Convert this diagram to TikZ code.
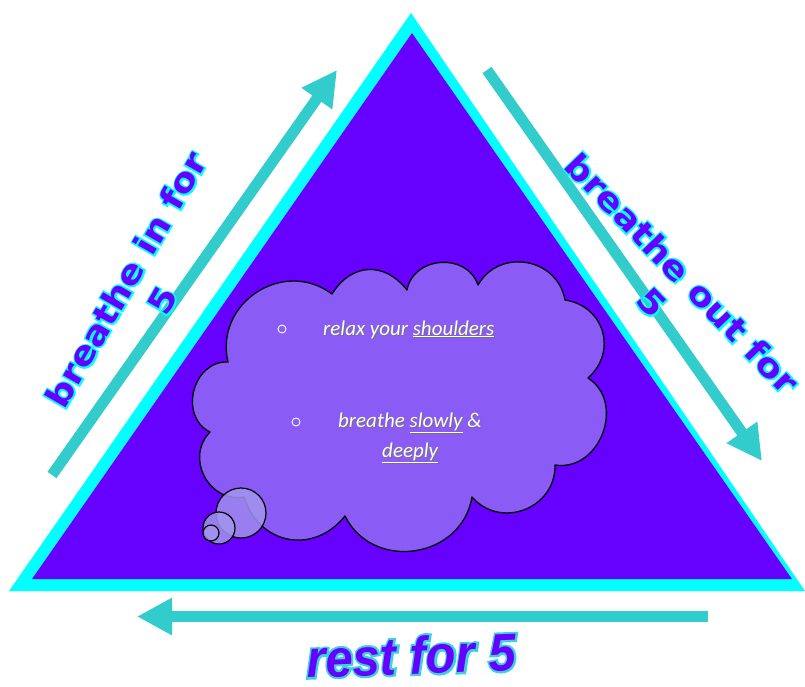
\documentclass[tikz,border=0pt]{standalone}
\usepackage{fontspec}
\usetikzlibrary{arrows.meta}
\newfontfamily\wafont[FakeStretch=1.12]{DejaVu Sans}
\newfontfamily\cloudfont{Carlito}
\newfontfamily\restfont{Liberation Sans}
\definecolor{wpurple}{HTML}{6600FF}
\definecolor{wcyan}{HTML}{00FFFF}
\definecolor{wteal}{HTML}{33CCCC}
\definecolor{restline}{HTML}{3CD2DC}
\definecolor{cloudfill}{HTML}{8A5CF5}
\definecolor{bubfill}{HTML}{A395EE}
% outlined text: #1 outline colour, #2 embolden amount, #3 text
\newcommand\wart[3]{\rlap{\addfontfeature{FakeBold=#2}\color{#1}#3}{\color{wpurple}#3}}
\newcommand\shad[1]{\rlap{\hspace*{0.9pt}\raisebox{-1.1pt}{\color{black!55}#1}}{\color{white}#1}}
\begin{document}
\begin{tikzpicture}[x=1pt,y=-1pt,
  arrowline/.style={wteal, line width=11pt, -{Triangle[length=35pt,width=35pt]}},
  wa/.style={font=\wafont\bfseries\fontsize{33}{42}\selectfont, align=center, inner sep=0pt},
  restlabel/.style={font=\restfont\bfseries\itshape\fontsize{49}{49}\selectfont, inner sep=0pt},
  cloudtext/.style={font=\cloudfont\itshape\fontsize{21}{25}\selectfont, inner sep=0pt},
  bulletmark/.style={circle, draw=white, line width=0.9pt, minimum size=8pt, inner sep=0pt},
  puff/.style={bend left=#1, looseness=1.25},
  bubble/.style={draw=black, line width=1.2pt, fill=bubfill, fill opacity=0.85}]
\useasboundingbox (0,0) rectangle (805,686);
\fill[white] (0,0) rectangle (805,686);
% triangle
\fill[wcyan, even odd rule] (411,13) -- (9,591) -- (805,591) -- cycle
   (412,33) -- (32,579) -- (792,579) -- cycle;
\fill[wpurple] (412,33) -- (32,579) -- (792,579) -- cycle;
% arrows
\coordinate (inTail) at (52,475);
\coordinate (inTip) at (337,70);
\coordinate (outTail) at (487,70);
\coordinate (outTip) at (762,461);
\coordinate (restTail) at (708,616.5);
\coordinate (restTip) at (137,616.5);
\draw[arrowline] (inTail) -- (inTip);
\draw[arrowline] (outTail) -- (outTip);
\draw[arrowline] (restTail) -- (restTip);
% cloud
\coordinate (c1) at (228,362);
\coordinate (c2) at (332,294);
\coordinate (c3) at (407,290);
\coordinate (c4) at (478,285);
\coordinate (c5) at (565,300);
\coordinate (c6) at (588,378);
\coordinate (c7) at (555,465);
\coordinate (c8) at (472,497);
\coordinate (c9) at (345,516);
\coordinate (c10) at (244,497);
\coordinate (c11) at (210,432);
\draw[fill=cloudfill, line width=1.3pt, line join=round]
  (c1) to[puff=70] (c2) to[puff=55] (c3) to[puff=75] (c4) to[puff=70] (c5)
  to[puff=65] (c6) to[puff=78] (c7) to[puff=70] (c8) to[puff=72] (c9)
  to[puff=62] (c10) to[puff=72] (c11) to[puff=78] (c1) -- cycle;
% thought bubbles
\node[bubble, circle, minimum size=50pt, inner sep=0pt] (bub1) at (241,513) {};
\node[bubble, circle, minimum size=32pt, inner sep=0pt] (bub2) at (219,528) {};
\node[bubble, circle, minimum size=16pt, inner sep=0pt] (bub3) at (211,533) {};
% cloud text
\node[bulletmark] (m1) at (282,329) {};
\node[bulletmark] (m2) at (296,422) {};
\node[cloudtext, anchor=base west] (t1) at (323,335) {\shad{relax your \underline{shoulders}}};
\node[cloudtext, anchor=base west] (t2) at (338,427) {\shad{breathe \underline{slowly} \&}};
\node[cloudtext, anchor=base west] (t3) at (382,457) {\shad{\underline{deeply}}};
% word art labels
\node[wa, rotate=60] (inlabel) at (144,290) {\wart{wcyan}{10}{breathe in for}\\\wart{wcyan}{10}{5}};
\node[wa, rotate=-46] (outlabel) at (667,288) {\wart{wcyan}{10}{breathe out for}\\\wart{wcyan}{10}{5}};
\node[restlabel, rotate=2, yscale=1.08, anchor=base] (restlbl) at (412,674) {\wart{restline}{8}{rest for 5}};
\end{tikzpicture}
\end{document}
